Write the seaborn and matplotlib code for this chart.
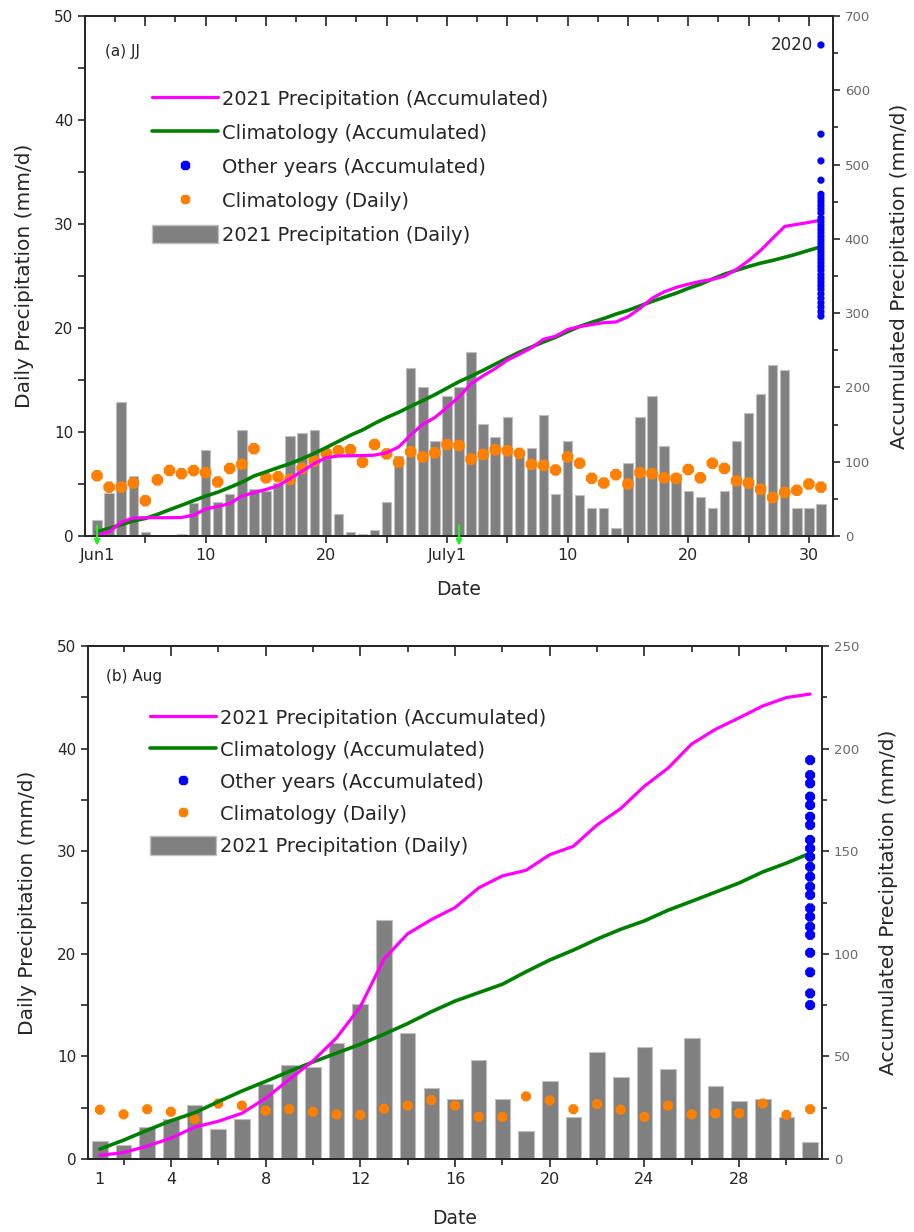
import numpy as np
import seaborn as sns
import matplotlib.pyplot as plt
from matplotlib.lines import Line2D
from matplotlib.patches import Patch
from matplotlib.ticker import FixedLocator, MultipleLocator

########
# DATA #
########

# (a) June-July, day index 1..61
jj_days = list(range(1, 62))
jj_daily = [1.5, 4.1, 12.9, 5.8, 0.4, 0.0, 0.0, 0.2, 3.2, 8.3,
            3.3, 4.0, 10.2, 4.5, 4.3, 5.1, 9.6, 9.9, 10.2, 8.1,
            2.1, 0.4, 0.2, 0.6, 3.3, 7.7, 16.2, 14.3, 9.1, 13.5,
            14.3, 17.7, 10.8, 9.5, 11.4, 8.1, 8.5, 11.6, 4.0, 9.1,
            3.9, 2.7, 2.7, 0.8, 7.0, 11.4, 13.5, 8.7, 6.0, 4.3,
            3.8, 2.7, 4.3, 9.1, 11.8, 13.7, 16.4, 16.0, 2.7, 2.7,
            3.1]
jj_clim = [5.8, 4.7, 4.7, 5.1, 3.4, 5.4, 6.3, 6.0, 6.3, 6.1,
           5.2, 6.5, 6.9, 8.4, 5.6, 5.7, 5.45, 6.5, 7.2, 7.95,
           8.2, 8.3, 7.1, 8.8, 7.9, 7.1, 8.1, 7.6, 8.0, 8.8,
           8.7, 7.4, 7.85, 8.3, 8.2, 7.95, 6.9, 6.8, 6.35, 7.6,
           7.0, 5.55, 5.1, 5.9, 5.0, 6.1, 6.0, 5.6, 5.55, 6.4,
           5.6, 7.0, 6.5, 5.3, 5.1, 4.5, 3.7, 4.2, 4.4, 5.0,
           4.7]
jj_other = [661, 541, 505, 479, 460, 455, 450, 445, 440, 435,
            428, 423, 418, 413, 408, 403, 398, 393, 388, 383,
            378, 373, 368, 363, 358, 352, 347, 342, 337, 332,
            326, 320, 314, 308, 302, 296]
jj_ticks = [1, 5, 10, 15, 20, 25, 30, 35, 40, 45, 50, 55, 60]
jj_ticklabels = ['Jun1', '', '10', '', '20', '', 'July1', '', '10', '', '20', '', '30']
jj_arrows = [1, 31]

# (b) August, day 1..31
aug_days = list(range(1, 32))
aug_daily = [1.75, 1.35, 3.15, 3.9, 5.3, 2.9, 3.9, 7.3, 9.2, 9.0,
             11.3, 15.1, 23.3, 12.3, 6.9, 5.85, 9.6, 5.85, 2.75, 7.6,
             4.1, 10.4, 8.0, 10.9, 8.8, 11.8, 7.1, 5.6, 5.8, 4.1,
             1.7]
aug_clim = [4.8, 4.35, 4.85, 4.6, 3.9, 5.4, 5.2, 4.7, 4.85, 4.6,
            4.35, 4.3, 4.9, 5.2, 5.75, 5.2, 4.1, 4.1, 6.1, 5.7,
            4.85, 5.35, 4.8, 4.1, 5.2, 4.35, 4.45, 4.45, 5.4, 4.3,
            4.85]
aug_other = [194.4, 187.1, 183.1, 176.6, 172.5, 166.8, 162.8, 155.5, 151.4, 147.3,
             142.4, 137.6, 132.7, 128.7, 122.2, 118.1, 113.2, 109.2, 100.5, 91.0,
             80.7, 75.0]
aug_ticks = [1, 4, 8, 12, 16, 20, 24, 28]
aug_ticklabels = ['1', '4', '8', '12', '16', '20', '24', '28']

legend_labels = ['2021 Precipitation (Accumulated)', 'Climatology (Accumulated)',
                 'Other years (Accumulated)', 'Climatology (Daily)',
                 '2021 Precipitation (Daily)']

###########
# STYLING #
###########

sns.set_style('ticks')
plt.rcParams['font.family'] = ['DejaVu Sans']
plt.rcParams['axes.linewidth'] = 1.3

C_BAR = '#808080'
C_ORANGE = '#ff8000'
C_BLUE = '#0000ff'
C_MAGENTA = '#ff00ff'
C_GREEN = '#008000'


def draw_panel(ax, days, daily, clim, other, rmax, bar_width, s_orange, s_blue):
    # daily bars and climatology dots on the left axis
    sns.barplot(x=days, y=daily, native_scale=True, color=C_BAR, saturation=1,
                width=bar_width, errorbar=None, edgecolor='#c0c0c0', linewidth=0.8, ax=ax)
    sns.scatterplot(x=days, y=clim, marker='8', s=s_orange, color=C_ORANGE,
                    edgecolor='none', ax=ax, zorder=4)
    ax.set_ylim(0, 50)

    # accumulated values on the right axis
    ax2 = ax.twinx()
    sns.lineplot(x=days, y=np.cumsum(clim), color=C_GREEN, lw=2.6, ax=ax2)
    sns.lineplot(x=days, y=np.cumsum(daily), color=C_MAGENTA, lw=2.3, ax=ax2)
    sns.scatterplot(x=[days[-1]] * len(other), y=other, marker='8', s=s_blue,
                    color=C_BLUE, edgecolor='none', ax=ax2, zorder=5)
    ax2.set_ylim(0, rmax)

    ax.set_ylabel('Daily Precipitation (mm/d)', fontsize=14.5, labelpad=14)
    ax2.set_ylabel('Accumulated Precipitation (mm/d)', fontsize=14.5, labelpad=14)

    ax.yaxis.set_major_locator(MultipleLocator(10))
    ax.yaxis.set_minor_locator(MultipleLocator(5))
    ax.tick_params(axis='y', which='both', direction='out', length=5, width=1.2, labelsize=11)
    ax2.yaxis.set_major_locator(MultipleLocator(100 if rmax == 700 else 50))
    ax2.yaxis.set_minor_locator(MultipleLocator(50 if rmax == 700 else 25))
    ax2.tick_params(axis='y', which='major', direction='out', length=5, width=1.2,
                    labelsize=9.5, labelcolor='#6a6a6a')
    ax2.tick_params(axis='y', which='minor', direction='out', length=3.5, width=1.2)
    return ax2


def add_legend(ax2, anchor, spacing):
    handles = [Line2D([], [], color=C_MAGENTA, lw=2.3),
               Line2D([], [], color=C_GREEN, lw=2.6),
               Line2D([], [], ls='none', marker='8', ms=6, color=C_BLUE),
               Line2D([], [], ls='none', marker='8', ms=7, color=C_ORANGE),
               Patch(facecolor=C_BAR, edgecolor='#c0c0c0')]
    ax2.legend(handles, legend_labels, loc='upper left', bbox_to_anchor=anchor,
               frameon=False, fontsize=14, handlelength=3.4, handleheight=1.1,
               handletextpad=0.2, labelspacing=spacing, borderpad=0, borderaxespad=0)


fig = plt.figure(figsize=(9.14, 12.32), dpi=100)

############
# PANEL A #
############
ax_a = fig.add_axes([0.093, 0.5649, 0.8184, 0.4221])
ax_a2 = draw_panel(ax_a, jj_days, jj_daily, jj_clim, jj_other, 700, 0.78, 80, 30)
ax_a.set_xlabel('Date', fontsize=13.5, labelpad=12)
ax_a.set_xlim(0, 62)
ax_a.xaxis.set_major_locator(FixedLocator(jj_ticks))
ax_a.set_xticklabels(jj_ticklabels)
ax_a.tick_params(axis='x', direction='out', length=5, width=1.2, labelsize=11.5)
ax_a.xaxis.get_major_ticks()[0].tick1line.set_visible(False)
top_a = ax_a2.secondary_xaxis('top')
top_a.xaxis.set_major_locator(MultipleLocator(5))
top_a.xaxis.set_minor_locator(MultipleLocator(2.5))
top_a.tick_params(which='major', direction='in', length=7, width=1.2, labeltop=False)
top_a.tick_params(which='minor', direction='in', length=4, width=1.2)
ax_a.text(0.027, 0.931, '(a) JJ', transform=ax_a.transAxes, fontsize=11, va='center')
ax_a2.annotate('2020', xy=(jj_days[-1], jj_other[0]), xytext=(-6, 0),
               textcoords='offset points', ha='right', va='center', fontsize=12)
for u in jj_arrows:
    ax_a2.annotate('', xy=(u, -0.024), xytext=(u, 0.026), xycoords=ax_a2.get_xaxis_transform(),
                   arrowprops=dict(arrowstyle='-|>', color='#22ee22', lw=1.6, mutation_scale=8),
                   annotation_clip=False)
add_legend(ax_a2, (0.0896, 0.860), 0.72)

############
# PANEL B #
############
ax_b = fig.add_axes([0.0963, 0.0593, 0.8030, 0.4163])
ax_b2 = draw_panel(ax_b, aug_days, aug_daily, aug_clim, aug_other, 250, 0.66, 60, 60)
ax_b.set_xlabel('Date', fontsize=13.5, labelpad=16)
ax_b.set_xlim(0.5, 31.5)
ax_b.xaxis.set_major_locator(FixedLocator(aug_ticks))
ax_b.set_xticklabels(aug_ticklabels)
ax_b.xaxis.set_minor_locator(MultipleLocator(2))
ax_b.tick_params(axis='x', which='major', direction='out', length=6, width=1.2, labelsize=11.5)
ax_b.tick_params(axis='x', which='minor', direction='out', length=4, width=1.2)
ax_b.xaxis.get_major_ticks()[0].tick1line.set_visible(False)
top_b = ax_b2.secondary_xaxis('top')
top_b.xaxis.set_major_locator(MultipleLocator(4))
top_b.xaxis.set_minor_locator(MultipleLocator(2))
top_b.tick_params(which='major', direction='in', length=7, width=1.2, labeltop=False)
top_b.tick_params(which='minor', direction='in', length=4, width=1.2)
ax_b.text(0.0245, 0.94, '(b) Aug', transform=ax_b.transAxes, fontsize=11, va='center')
add_legend(ax_b2, (0.0845, 0.879), 0.62)

plt.savefig('out.png', dpi=100)
